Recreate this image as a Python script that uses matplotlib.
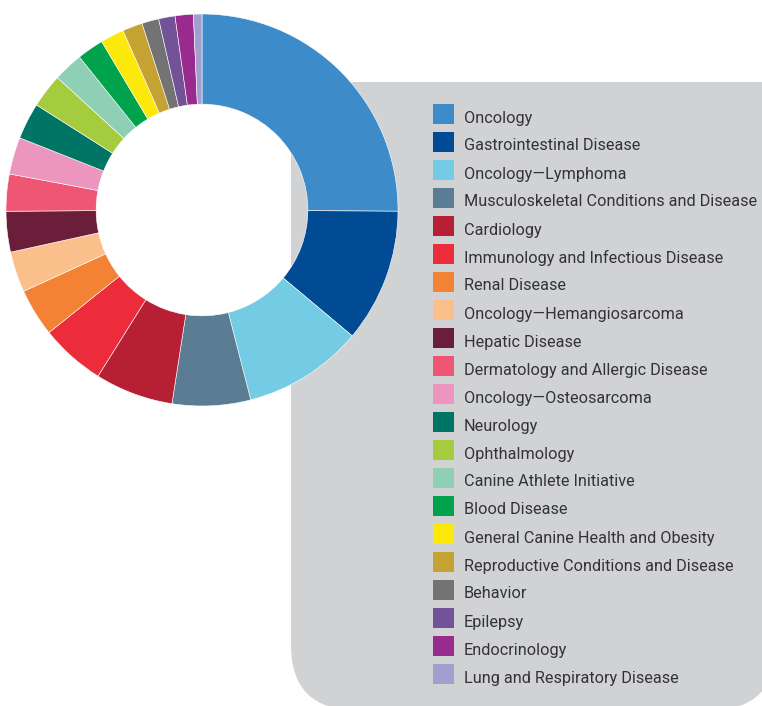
import matplotlib
matplotlib.use("Agg")
import matplotlib.pyplot as plt
from matplotlib.patches import FancyBboxPatch, Rectangle

# Share of studies by research area (percent)
categories = [
    "Oncology",
    "Gastrointestinal Disease",
    "Oncology\u2014Lymphoma",
    "Musculoskeletal Conditions and Disease",
    "Cardiology",
    "Immunology and Infectious Disease",
    "Renal Disease",
    "Oncology\u2014Hemangiosarcoma",
    "Hepatic Disease",
    "Dermatology and Allergic Disease",
    "Oncology\u2014Osteosarcoma",
    "Neurology",
    "Ophthalmology",
    "Canine Athlete Initiative",
    "Blood Disease",
    "General Canine Health and Obesity",
    "Reproductive Conditions and Disease",
    "Behavior",
    "Epilepsy",
    "Endocrinology",
    "Lung and Respiratory Disease",
]
shares = [25.1, 11.0, 9.9, 6.45, 6.45, 5.35, 3.95, 3.35, 3.35, 3.05, 3.05,
          3.0, 2.8, 2.45, 2.2, 1.95, 1.65, 1.4, 1.35, 1.5, 0.7]
colors = ["#3d8bc8", "#004b93", "#74cbe4", "#5b7d93", "#b71f35", "#ec2b3b",
          "#f38235", "#fbbf8c", "#6b1e3a", "#ef5674", "#ec95bf", "#007465",
          "#a5cc3f", "#8ecfb5", "#00a34b", "#fce80a", "#c5a332", "#727372",
          "#735397", "#992a8e", "#a29fcf"]

W, H = 762, 706
fig = plt.figure(figsize=(W / 100, H / 100), dpi=100)

# background layer in pixel coordinates
bg = fig.add_axes([0, 0, 1, 1])
bg.set_xlim(0, W)
bg.set_ylim(H, 0)
bg.axis("off")

box_gray = "#d1d2d4"
bg.add_patch(FancyBboxPatch((291, 82), 485, 628, boxstyle="round,pad=0,rounding_size=65",
                            fc=box_gray, ec="none"))
bg.add_patch(Rectangle((291, 82), 485, 100, fc=box_gray, ec="none"))

# legend drawn by hand inside the gray panel
for i, (name, col) in enumerate(zip(categories, colors)):
    yc = 114 + i * 28
    bg.add_patch(Rectangle((433, yc - 10), 21, 20, fc=col, ec="none"))
    bg.text(464, yc + 8.5, name, fontsize=11.7, family="Roboto", color="#333335",
            va="baseline", ha="left")

# donut
cx, cy, r = 202, 210, 196
ax = fig.add_axes([(cx - r) / W, (H - cy - r) / H, 2 * r / W, 2 * r / H])
ax.pie(shares, colors=colors, startangle=90, counterclock=False, radius=1,
       wedgeprops=dict(width=0.46, edgecolor="white", linewidth=0.4))
ax.set_xlim(-1, 1)
ax.set_ylim(-1, 1)
ax.axis("off")

fig.savefig("out.png", dpi=100)
